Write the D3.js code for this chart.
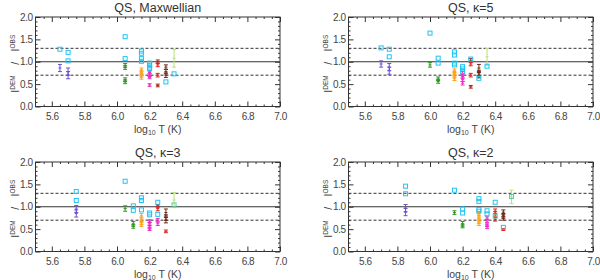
<!DOCTYPE html>
<html>
<head>
<meta charset="utf-8">
<script src="https://cdn.jsdelivr.net/npm/d3@7"></script>
<style>
  body { margin: 0; background: #fff; }
  svg { display: block; font-family: "Liberation Sans", Arial, sans-serif; }
  .tick text { fill: #444; font-size: 10px; letter-spacing: -0.5px; }
  .tick line { stroke: #333; }
</style>
</head>
<body>
<svg id="chart" width="600" height="280"></svg>
<script>
/// Line ratio I_DEM / I_OBS vs log T, four QS panels ///

// bars: [logT, ratio, error, group]; squares: [logT, ratio, group]
const maxwellBars = [
  [5.65, 0.86, 0.08, "p"], [5.70, 0.78, 0.08, "p"], [5.70, 0.70, 0.08, "p"],
  [6.05, 0.92, 0.04, "g"], [6.05, 0.87, 0.04, "g"], [6.05, 0.60, 0.04, "g"], [6.05, 0.55, 0.04, "g"],
  [6.15, 0.82, 0.04, "o"], [6.15, 0.76, 0.04, "o"], [6.15, 0.70, 0.04, "o"], [6.15, 0.65, 0.04, "o"],
  [6.20, 0.76, 0.03, "m"], [6.20, 0.70, 0.03, "m"], [6.20, 0.65, 0.03, "m"], [6.20, 0.48, 0.03, "m"],
  [6.25, 1.00, 0.04, "d"], [6.25, 0.93, 0.04, "r"], [6.25, 0.70, 0.04, "r"], [6.25, 0.47, 0.03, "d"],
  [6.30, 0.88, 0.05, "b"], [6.30, 0.78, 0.05, "b"], [6.30, 0.70, 0.05, "b"],
  [6.35, 1.08, 0.20, "l"]
];
const maxwellSquares = [
  [5.65, 1.28, "c"], [5.70, 1.21, "c"], [5.70, 1.02, "c"], [6.05, 1.56, "c"], [6.05, 1.07, "c"],
  [6.15, 1.24, "c"], [6.15, 1.19, "c"], [6.15, 1.07, "c"], [6.15, 1.01, "c"],
  [6.20, 0.97, "c"], [6.20, 0.92, "c"], [6.20, 0.88, "c"], [6.20, 0.85, "c"],
  [6.30, 0.55, "c"], [6.35, 0.73, "c"]
];

const kappa5Bars = [
  [5.70, 0.95, 0.07, "p"], [5.75, 0.88, 0.08, "p"], [5.75, 0.80, 0.08, "p"],
  [6.00, 0.93, 0.05, "g"], [6.05, 0.62, 0.04, "g"], [6.05, 0.56, 0.04, "g"],
  [6.15, 0.80, 0.04, "o"], [6.15, 0.74, 0.04, "o"], [6.15, 0.68, 0.04, "o"], [6.15, 0.62, 0.04, "o"],
  [6.20, 0.74, 0.04, "m"], [6.20, 0.67, 0.04, "m"], [6.20, 0.60, 0.04, "m"], [6.20, 0.52, 0.04, "m"],
  [6.25, 1.03, 0.04, "d"], [6.25, 0.95, 0.04, "r"], [6.25, 0.70, 0.04, "r"], [6.25, 0.44, 0.03, "d"],
  [6.30, 0.86, 0.08, "b"], [6.30, 0.75, 0.06, "b"], [6.30, 0.70, 0.06, "b"],
  [6.35, 1.11, 0.19, "l"]
];
const kappa5Squares = [
  [5.70, 1.31, "c"], [5.75, 1.28, "c"], [5.75, 1.11, "c"], [6.00, 1.64, "c"],
  [6.05, 1.08, "c"], [6.05, 0.97, "c"],
  [6.15, 1.22, "c"], [6.15, 1.15, "c"], [6.15, 0.97, "c"], [6.15, 0.93, "c"],
  [6.20, 0.89, "c"], [6.20, 0.84, "c"], [6.20, 0.78, "c"],
  [6.25, 1.06, "c"], [6.30, 0.63, "c"], [6.35, 0.90, "c"]
];

const kappa3Bars = [
  [5.75, 0.95, 0.08, "p"], [5.75, 0.85, 0.08, "p"],
  [6.05, 0.96, 0.06, "g"], [6.10, 0.62, 0.05, "g"], [6.10, 0.56, 0.04, "g"],
  [6.15, 0.80, 0.05, "o"], [6.15, 0.72, 0.05, "o"], [6.15, 0.65, 0.05, "o"], [6.15, 0.60, 0.04, "o"],
  [6.20, 0.68, 0.03, "m"], [6.20, 0.62, 0.03, "m"], [6.20, 0.55, 0.03, "m"], [6.20, 0.50, 0.03, "m"],
  [6.25, 0.70, 0.04, "m"], [6.25, 0.62, 0.04, "m"],
  [6.25, 1.02, 0.03, "d"], [6.25, 0.96, 0.05, "r"],
  [6.30, 0.87, 0.08, "b"], [6.30, 0.76, 0.06, "b"], [6.30, 0.70, 0.06, "b"], [6.30, 0.45, 0.03, "r"],
  [6.35, 1.15, 0.17, "l"]
];
const kappa3Squares = [
  [5.75, 1.34, "c"], [5.75, 1.14, "c"], [6.05, 1.57, "c"], [6.10, 1.02, "c"], [6.10, 0.92, "c"],
  [6.15, 1.20, "c"], [6.15, 1.14, "c"], [6.15, 0.93, "c"], [6.20, 0.86, "c"], [6.20, 0.82, "c"],
  [6.25, 1.10, "c"], [6.25, 0.83, "c"], [6.35, 1.04, "t"]
];

const kappa2Bars = [
  [5.85, 0.97, 0.08, "p"], [5.85, 0.88, 0.08, "p"],
  [6.15, 0.87, 0.04, "g"], [6.20, 0.62, 0.05, "g"], [6.20, 0.57, 0.04, "g"],
  [6.30, 0.82, 0.05, "o"], [6.30, 0.75, 0.05, "o"], [6.30, 0.68, 0.05, "o"], [6.30, 0.62, 0.04, "o"],
  [6.35, 0.75, 0.04, "m"], [6.35, 0.68, 0.04, "m"], [6.35, 0.60, 0.04, "m"], [6.35, 0.55, 0.04, "m"],
  [6.40, 0.90, 0.05, "r"], [6.40, 0.84, 0.05, "r"], [6.40, 0.72, 0.04, "r"], [6.45, 0.49, 0.02, "r"],
  [6.45, 0.88, 0.05, "b"], [6.45, 0.80, 0.05, "b"], [6.45, 0.74, 0.04, "b"],
  [6.50, 1.22, 0.15, "l"]
];
const kappa2Squares = [
  [5.85, 1.46, "c"], [5.85, 1.29, "c"], [6.15, 1.37, "c"], [6.20, 0.95, "c"], [6.20, 0.86, "c"],
  [6.30, 1.18, "c"], [6.30, 1.12, "c"], [6.30, 0.94, "c"], [6.30, 0.90, "c"],
  [6.35, 0.91, "c"], [6.35, 0.84, "c"], [6.40, 1.10, "c"], [6.40, 0.79, "t"], [6.45, 0.54, "c"],
  [6.50, 1.23, "t"]
];

const titles = ["QS, Maxwellian", "QS, \u03BA=5", "QS, \u03BA=3", "QS, \u03BA=2"];
const xTicks = [5.6, 5.8, 6.0, 6.2, 6.4, 6.6, 6.8, 7.0];
const yTicks = [0.0, 0.5, 1.0, 1.5, 2.0];
const refLines = [[1.0, "solid"], [1.3, "dash"], [0.7, "dash"]];

const colors = {
  p: "#6e4fd0", g: "#2e9420", o: "#ffa318", m: "#f028c8",
  r: "#e41e1e", d: "#a82418", b: "#702818", l: "#b8e07c",
  c: "#1ec4f2", t: "#5ccaa6"
};

const panels = [
  { title: titles[0], bars: maxwellBars, squares: maxwellSquares, left: 35.5, top: 17 },
  { title: titles[1], bars: kappa5Bars, squares: kappa5Squares, left: 348.5, top: 17 },
  { title: titles[2], bars: kappa3Bars, squares: kappa3Squares, left: 35.5, top: 162 },
  { title: titles[3], bars: kappa2Bars, squares: kappa2Squares, left: 348.5, top: 162 }
];

const W = 244.5, H = 89.5;
const svg = d3.select("#chart");

panels.forEach(p => drawPanel(p));

function drawPanel(p) {
  let g = svg.append("g");
  let x = d3.scaleLinear().domain([5.5, 7.0]).range([p.left, p.left + W]);
  let y = d3.scaleLinear().domain([0, 2]).range([p.top + H, p.top]);
  let xb = p.top + H, xr = p.left + W;

  let minorX = d3.range(5.55, 7.0, 0.05).filter(v => Math.abs(v * 5 - Math.round(v * 5)) > 1e-6);
  let minorY = d3.range(0.1, 2.0, 0.1).filter(v => Math.abs(v * 2 - Math.round(v * 2)) > 1e-6);

  // bottom
  g.append("g").attr("transform", `translate(0,${xb})`)
    .call(d3.axisBottom(x).tickValues(xTicks).tickFormat(d3.format(".1f")).tickSize(-5).tickPadding(6));
  g.append("g").attr("transform", `translate(0,${xb})`)
    .call(d3.axisBottom(x).tickValues(minorX).tickFormat("").tickSize(-2));
  // top
  g.append("g").attr("transform", `translate(0,${p.top})`)
    .call(d3.axisTop(x).tickValues(xTicks).tickFormat("").tickSize(-5));
  g.append("g").attr("transform", `translate(0,${p.top})`)
    .call(d3.axisTop(x).tickValues(minorX).tickFormat("").tickSize(-2));
  // left
  g.append("g").attr("transform", `translate(${p.left},0)`)
    .call(d3.axisLeft(y).tickValues(yTicks).tickFormat(d3.format(".1f")).tickSize(-5).tickPadding(3));
  g.append("g").attr("transform", `translate(${p.left},0)`)
    .call(d3.axisLeft(y).tickValues(minorY).tickFormat("").tickSize(-2));
  // right
  g.append("g").attr("transform", `translate(${xr},0)`)
    .call(d3.axisRight(y).tickValues(yTicks).tickFormat("").tickSize(-5));
  g.append("g").attr("transform", `translate(${xr},0)`)
    .call(d3.axisRight(y).tickValues(minorY).tickFormat("").tickSize(-2));
  g.selectAll(".domain").remove();
  g.append("rect").attr("x", p.left).attr("y", p.top).attr("width", W).attr("height", H)
    .attr("fill", "none").attr("stroke", "#333").attr("stroke-width", 1);

  // reference lines
  refLines.forEach(r => {
    g.append("line")
      .attr("x1", p.left).attr("x2", xr)
      .attr("y1", y(r[0])).attr("y2", y(r[0]))
      .attr("stroke", "#333").attr("stroke-width", r[1] == "solid" ? 1.2 : 1)
      .attr("stroke-dasharray", r[1] == "solid" ? null : "3,2");
  });

  // error bars
  let bars = g.append("g").selectAll("g").data(p.bars).join("g")
    .attr("stroke", d => colors[d[3]]).attr("stroke-width", 1);
  bars.append("line")
    .attr("x1", d => x(d[0])).attr("x2", d => x(d[0]))
    .attr("y1", d => y(d[1] - d[2])).attr("y2", d => y(d[1] + d[2]));
  [d => d[1] - d[2], d => d[1] + d[2], d => d[1]].forEach((f, i) => {
    bars.append("line")
      .attr("x1", d => x(d[0]) - (i == 2 ? 1.5 : 2)).attr("x2", d => x(d[0]) + (i == 2 ? 1.5 : 2))
      .attr("y1", d => y(f(d))).attr("y2", d => y(f(d)));
  });

  // squares
  g.append("g").selectAll("rect").data(p.squares).join("rect")
    .attr("x", d => x(d[0]) - 2).attr("y", d => y(d[1]) - 2)
    .attr("width", 4).attr("height", 4)
    .attr("fill", "none").attr("stroke", d => colors[d[2]]).attr("stroke-width", 1);

  // titles
  let cx = p.left + W / 2;
  g.append("text").attr("x", cx).attr("y", p.top - 5)
    .attr("text-anchor", "middle").attr("font-size", 12.5).attr("fill", "#333")
    .text(p.title);

  let xt = g.append("text").attr("x", cx).attr("y", xb + 26)
    .attr("text-anchor", "middle").attr("font-size", 10.5).attr("fill", "#444");
  xt.append("tspan").text("log");
  xt.append("tspan").attr("font-size", 7).attr("dy", 2).text("10");
  xt.append("tspan").attr("dy", -2).text(" T (K)");

  let yt = g.append("text")
    .attr("transform", `translate(${p.left - 16.5},${y(1.0) + 2}) rotate(-90)`)
    .attr("text-anchor", "middle").attr("font-size", 10.5).attr("fill", "#444");
  yt.append("tspan").text("I");
  yt.append("tspan").attr("font-size", 6.5).attr("dy", -4).text("DEM");
  yt.append("tspan").attr("dy", 4).text("\u2003/\u2003I");
  yt.append("tspan").attr("font-size", 6.5).attr("dy", -4).text("OBS");
}
</script>
</body>
</html>
